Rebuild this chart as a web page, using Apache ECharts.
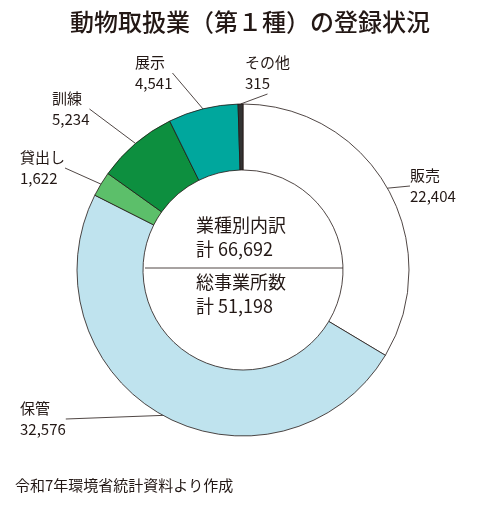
<!DOCTYPE html><html><head><meta charset="utf-8">
<script src="https://cdn.jsdelivr.net/npm/echarts@6/dist/echarts.min.js"></script>
<style>html,body{margin:0;background:#fff}#c{width:500px;height:506px}</style></head><body><div id="c"></div><script>
const categories=['販売','保管','貸出し','訓練','展示','その他'];
const values=[22404,32576,1622,5234,4541,315];
const colors=['#ffffff','#bfe3ee','#5cbf6a','#0d8f3f','#00a79d','#333333'];
const labelPos=[[410,165],[20,398],[20,147],[52,88],[135,52],[245,52]];
const F='"Noto Sans CJK JP",sans-serif';
const chart=echarts.init(document.getElementById('c'));
chart.setOption({
 animation:false,
 title:{text:'動物取扱業（第１種）の登録状況',left:'center',top:5,textStyle:{fontFamily:F,fontSize:24,fontWeight:500,color:'#231815'}},
 graphic:[
  {type:'text',left:15,top:478,style:{text:'令和7年環境省統計資料より作成',font:'15px '+F,fill:'#231815'}},
  {type:'text',left:196,top:213,style:{text:'業種別内訳\n計 66,692',font:'18px '+F,fill:'#231815',lineHeight:24}},
  {type:'line',shape:{x1:145,y1:268,x2:343,y2:268},style:{stroke:'#231815',lineWidth:0.8}},
  {type:'text',left:196,top:270,style:{text:'総事業所数\n計 51,198',font:'18px '+F,fill:'#231815',lineHeight:24}}
 ],
 series:[{type:'pie',center:[243,270],radius:[100,166],startAngle:90,clockwise:true,
  itemStyle:{borderColor:'#231815',borderWidth:0.8},
  data:categories.map((n,i)=>({name:n,value:values[i],itemStyle:{color:colors[i]}})),
  label:{formatter:p=>p.name+'\n'+p.value.toLocaleString('en-US'),fontFamily:F,fontSize:15,color:'#231815',lineHeight:21,align:'left'},
  labelLine:{show:true,lineStyle:{color:'#231815',width:0.8},length:10,length2:0},
  labelLayout:p=>({x:labelPos[p.dataIndex][0],y:labelPos[p.dataIndex][1],align:'left',verticalAlign:'top'})
 }]
});
</script></body></html>
